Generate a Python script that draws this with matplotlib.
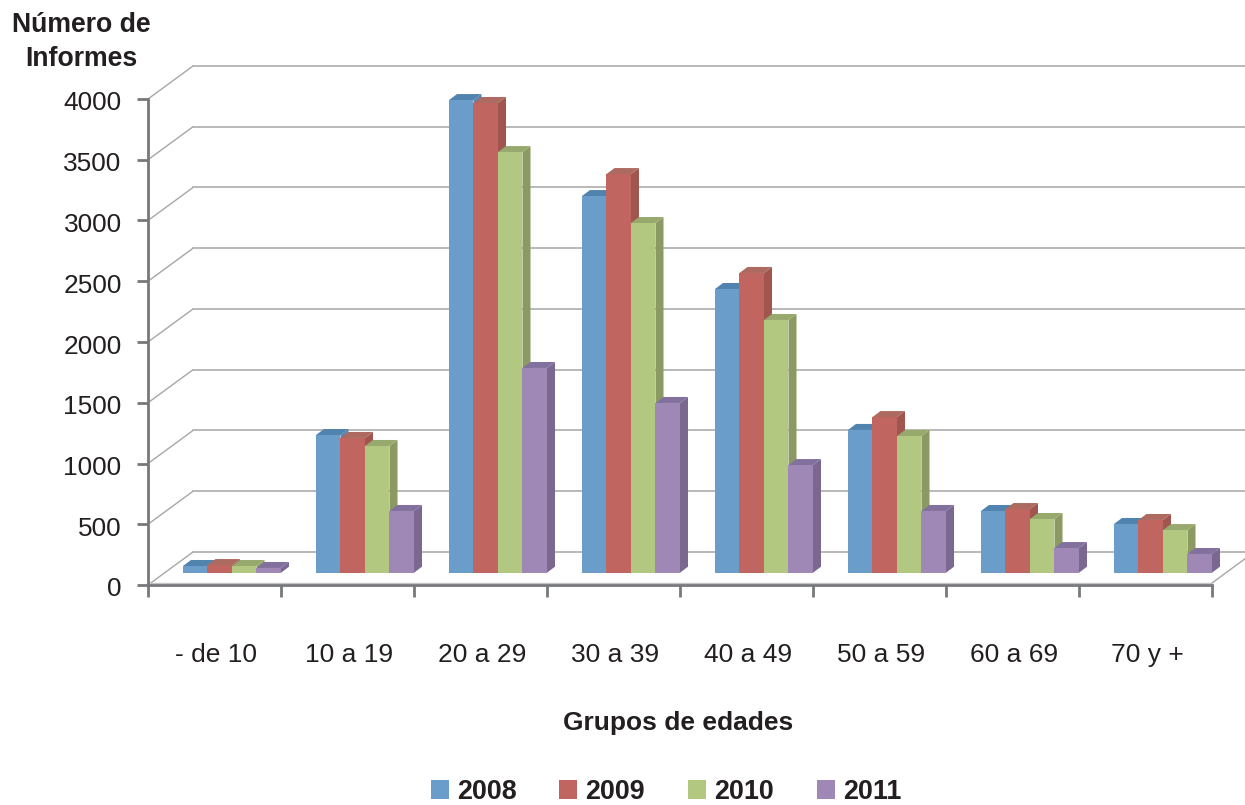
import matplotlib
matplotlib.use("Agg")
import matplotlib.pyplot as plt
from matplotlib.patches import Polygon, Patch
from matplotlib.transforms import ScaledTranslation

plt.rcParams['font.family'] = ['Liberation Sans', 'DejaVu Sans']

groups = ['- de 10', '10 a 19', '20 a 29', '30 a 39', '40 a 49', '50 a 59', '60 a 69', '70 y +']
years = ['2008', '2009', '2010', '2011']
v2008 = [55, 1133, 3890, 3100, 2335, 1175, 508, 401]
v2009 = [63, 1109, 3866, 3281, 2467, 1281, 524, 434]
v2010 = [55, 1043, 3462, 2878, 2080, 1125, 442, 351]
v2011 = [39, 508, 1685, 1397, 886, 508, 203, 154]
y_ticks = [0, 500, 1000, 1500, 2000, 2500, 3000, 3500, 4000]
series = [v2008, v2009, v2010, v2011]

front = ['#6A9DC9', '#C16560', '#B2C77F', '#A088B6']
top = ['#5083AD', '#AC6A60', '#98A96E', '#82709E']
side = ['#5785B0', '#A0554E', '#8A9A62', '#7A6890']

W, H = 1245, 805
X0, Y0 = 148.0, 585.0      # pixel position of the axis origin
PX_X, PX_Y = 133.0, 60.75 / 500   # pixels per category / per unit
dx = lambda px: px / PX_X
dy = lambda px: px / PX_Y

fig = plt.figure(figsize=(W / 100, H / 100), dpi=100, facecolor='white')
ax = fig.add_axes([0, 0, 1, 1])
ax.patch.set_visible(False)
ax.set_xlim(-X0 / PX_X, (W - X0) / PX_X)
ax.set_ylim(-(H - Y0) / PX_Y, Y0 / PX_Y)

# walls
grid = '#A6A6A6'
BX, BY = dx(45), dy(33)
for t in y_ticks:
    ax.plot([0, BX], [t, t + BY], color=grid, lw=1.0, zorder=1, solid_capstyle='butt')
    ax.plot([BX, ax.get_xlim()[1]], [t + BY, t + BY], color=grid, lw=1.1, zorder=1)
ax.plot([8, 8 + BX], [dy(2), BY + dy(2)], color=grid, lw=1.0, zorder=1)
ax.plot([0, 8], [dy(2), dy(2)], color='#C4C4C4', lw=1.0, zorder=1)

# bars
PX, PY = dx(18), dy(12.3)
BW = dx(24.5)
GAP = dx(17)
DX, DY = dx(8), dy(6)
for i, g in enumerate(groups):
    for j, vals in enumerate(series):
        z = 3 + i + j * 0.1
        v = vals[i]
        x = i + PX + GAP + j * BW
        b = PY
        t = PY + v
        ax.add_patch(Polygon([(x + BW, b), (x + BW + DX, b + DY), (x + BW + DX, t + DY), (x + BW, t)],
                             fc=side[j], ec='none', zorder=z))
        ax.add_patch(Polygon([(x, t), (x + DX, t + DY), (x + BW + DX, t + DY), (x + BW, t)],
                             fc=top[j], ec='none', zorder=z))
        ax.bar(x, v, BW, bottom=b, align='edge', color=front[j], zorder=z + 0.01, lw=0)

# axes
axis_c = '#77787B'
for s in ['top', 'right']:
    ax.spines[s].set_visible(False)
ax.spines['left'].set_position(('data', 0))
ax.spines['bottom'].set_position(('data', 0))
ax.spines['left'].set_bounds(0, 4000)
ax.spines['bottom'].set_bounds(0, 8)
for s in ['left', 'bottom']:
    ax.spines[s].set_color(axis_c)
    ax.spines[s].set_linewidth(2.0)
    ax.spines[s].set_zorder(2)
ax.set_yticks(y_ticks)
ax.set_yticklabels([str(t) for t in y_ticks])
ax.tick_params(axis='y', length=8, width=2.0, color=axis_c, pad=11, labelsize=18.9, labelcolor='#231F20')
ax.set_xticks(range(9))
ax.set_xticklabels([])
ax.set_xticks([i + 0.5 for i in range(8)], minor=True)
ax.set_xticklabels(groups, minor=True)
ax.tick_params(axis='x', which='major', length=8.5, width=2.0, color=axis_c)
ax.tick_params(axis='x', which='minor', length=0, pad=42, labelsize=19, labelcolor='#231F20')

# small pixel nudges of the tick labels
fig.canvas.draw()
for lab in ax.get_yticklabels():
    lab.set_transform(lab.get_transform() + ScaledTranslation(0, -2 / 100, fig.dpi_scale_trans))
for lab in ax.get_xticklabels(minor=True):
    lab.set_transform(lab.get_transform() + ScaledTranslation(1.5 / 100, 0, fig.dpi_scale_trans))

# text
fig.text(81 / W, 1 - 42.5 / H, 'Número de\nInformes', ha='center', va='center', fontsize=19.2,
         fontweight='bold', color='#231F20', linespacing=1.4)
fig.text(678 / W, 1 - 723 / H, 'Grupos de edades', ha='center', va='center', fontsize=19,
         fontweight='bold', color='#231F20')

handles = [Patch(fc=c, ec='none', label=y) for c, y in zip(front, years)]
leg = fig.legend(handles=handles, loc='center', bbox_to_anchor=(666 / W, 1 - 792 / H), ncol=4, frameon=False,
                 prop={'size': 19.4, 'weight': 'bold'}, labelcolor='#231F20',
                 handlelength=0.67, handleheight=0.67, handletextpad=0.30, columnspacing=1.59,
                 borderpad=0, borderaxespad=0)

fig.savefig('out.png', dpi=100, facecolor='white')
